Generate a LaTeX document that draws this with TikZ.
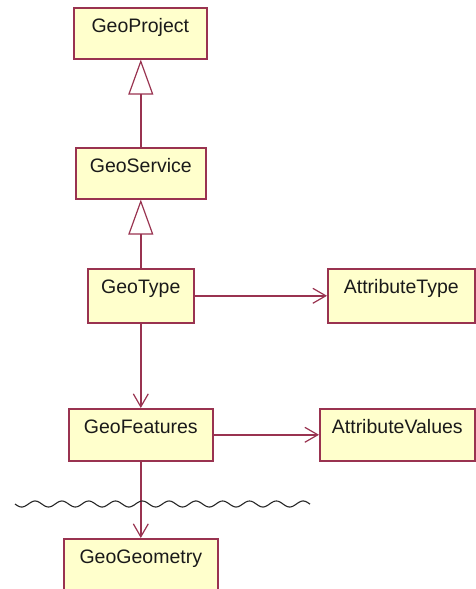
\documentclass[tikz,border=0pt]{standalone}
\usepackage{fontspec}
\setmainfont{Liberation Sans}
\usetikzlibrary{arrows.meta}
\definecolor{edge}{HTML}{993350}
\definecolor{cream}{HTML}{FFFFCC}
\definecolor{ink}{HTML}{1A1A1A}
\begin{document}
\begin{tikzpicture}[x=1pt,y=-1pt,
  cls/.style={draw=edge, fill=cream, line width=1.6pt, inner xsep=0pt, inner ysep=0pt,
    text height=25pt, text depth=26pt, anchor=north west, text=ink,
    font=\fontsize{19.5}{22}\selectfont},
  inherit/.style={draw=edge, line width=1.6pt,
    -{Triangle[open, length=35pt, width=25pt, line width=1.2pt]}},
  assoc/.style={draw=edge, line width=1.6pt,
    -{Straight Barb[length=13pt, width=15pt, line width=1.2pt]}},
  cut/.style={draw=black!85, line width=1.1pt, line join=round}]
\useasboundingbox (0,0) rectangle (476,589);
\clip (0,0) rectangle (476,589);

% class boxes
\node[cls, minimum width=133pt] (proj)  at (73,7)   {GeoProject};
\node[cls, minimum width=130pt] (serv)  at (75,147) {GeoService};
\node[cls, minimum width=106pt, text depth=29pt] (type) at (87,268) {GeoType};
\node[cls, minimum width=147pt, text depth=29pt] (atype) at (327,268) {AttributeType};
\node[cls, minimum width=144pt, text depth=27pt] (feat)  at (68,408) {GeoFeatures};
\node[cls, minimum width=155pt, text depth=27pt] (aval)  at (319,408) {AttributeValues};
\node[cls, minimum width=154pt, text depth=40pt] (geom) at (63,538) {GeoGeometry};

% generalisations
\draw[inherit] (serv.north) -- (serv.north |- proj.south);
\draw[inherit] (type.north) -- (type.north |- serv.south);

% associations
\draw[assoc] (type.east) -- (type.east -| atype.west);
\draw[assoc] (type.south) -- (type.south |- feat.north);
\draw[assoc] (feat.east) -- (feat.east -| aval.west);
\draw[assoc] (feat.south) -- (feat.south |- geom.north);

% break line (one wave every 26.8pt: 360/26.8 = 13.433 degrees per pt)
\draw[cut] plot[domain=15:310, samples=240, smooth] (\x, {504+3*sin((\x-15)*13.433)});
\end{tikzpicture}
\end{document}
